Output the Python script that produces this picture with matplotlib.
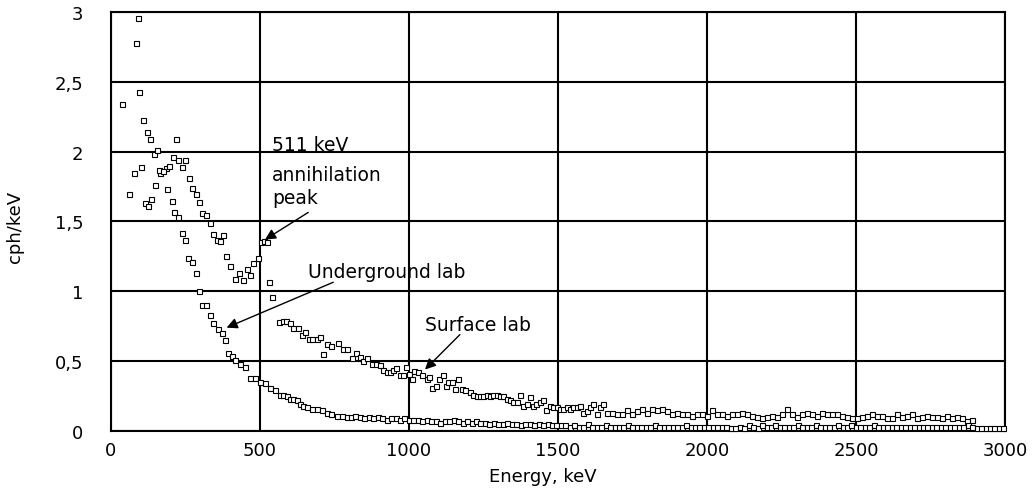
import matplotlib
matplotlib.use('Agg')
import matplotlib.pyplot as plt
import numpy as np
from matplotlib.ticker import FuncFormatter

# Surface lab: points (keV, cph/keV)
surface_e = [36, 84, 90, 95, 106, 120, 131, 144, 153, 166, 185, 195, 207, 218, 224,
             237, 248, 262, 273, 284, 296, 306, 319, 332, 343, 355, 366, 377, 385,
             399, 416, 430, 444, 455, 466, 478, 494, 502, 513, 525, 531, 542, 565,
             578, 589, 601, 612, 628, 640, 651, 663, 676, 690, 701, 712, 724, 740,
             763, 780, 791, 808, 824, 836, 847, 858, 875, 891, 903, 914, 925, 936,
             947, 956, 970, 981, 990, 1000, 1009, 1018, 1032, 1043, 1059, 1068, 1079,
             1091, 1102, 1113, 1124, 1132, 1143, 1154, 1165, 1177, 1188, 1205, 1216,
             1227, 1238, 1249, 1261, 1272, 1283, 1294, 1305, 1317, 1328, 1339, 1350,
             1361, 1372, 1384, 1395, 1406, 1417, 1428, 1440, 1451, 1460, 1473, 1484,
             1496, 1507, 1518, 1529, 1540, 1551, 1563, 1574, 1585, 1596, 1607, 1619,
             1630, 1641, 1652]
surface_y = [2.34, 2.78, 2.96, 2.43, 2.23, 2.14, 2.09, 1.98, 2.01, 1.85, 1.88, 1.90, 1.96, 2.09, 1.94,
             1.89, 1.94, 1.81, 1.74, 1.70, 1.64, 1.56, 1.55, 1.49, 1.41, 1.37, 1.36, 1.40, 1.25,
             1.18, 1.09, 1.13, 1.08, 1.16, 1.12, 1.20, 1.24, 1.35, 1.36, 1.35, 1.07, 0.96, 0.78,
             0.79, 0.79, 0.77, 0.74, 0.74, 0.69, 0.71, 0.66, 0.66, 0.66, 0.67, 0.55, 0.62, 0.61,
             0.63, 0.59, 0.59, 0.52, 0.56, 0.53, 0.50, 0.52, 0.48, 0.48, 0.47, 0.44, 0.42, 0.42,
             0.44, 0.45, 0.40, 0.40, 0.46, 0.41, 0.37, 0.43, 0.42, 0.40, 0.37, 0.39, 0.31,
             0.32, 0.37, 0.40, 0.32, 0.35, 0.35, 0.30, 0.37, 0.30, 0.29, 0.28, 0.26,
             0.25, 0.25, 0.25, 0.26, 0.25, 0.26, 0.26, 0.25, 0.25, 0.23, 0.22, 0.21,
             0.21, 0.26, 0.18, 0.19, 0.24, 0.18, 0.19, 0.21, 0.22, 0.15, 0.18, 0.17,
             0.17, 0.16, 0.16, 0.17, 0.16, 0.17, 0.17, 0.18, 0.13, 0.14, 0.17, 0.19,
             0.12, 0.17, 0.19]
# Surface lab tail, evenly spaced bins
surface_tail_start = 1663
surface_tail_step = 16.8
surface_tail_y = [0.13, 0.13, 0.12, 0.12, 0.15, 0.12, 0.14, 0.16, 0.13, 0.16, 0.15, 0.16, 0.14,
                  0.12, 0.13, 0.12, 0.12, 0.11, 0.12, 0.12, 0.11, 0.15, 0.12, 0.12, 0.11, 0.12,
                  0.12, 0.13, 0.12, 0.11, 0.10, 0.09, 0.10, 0.11, 0.10, 0.12, 0.16, 0.12, 0.10,
                  0.12, 0.13, 0.12, 0.11, 0.13, 0.12, 0.12, 0.12, 0.11, 0.10, 0.09, 0.09, 0.10,
                  0.11, 0.12, 0.11, 0.11, 0.09, 0.09, 0.12, 0.10, 0.11, 0.12, 0.09, 0.10, 0.11,
                  0.10, 0.10, 0.09, 0.11, 0.09, 0.10, 0.09, 0.07, 0.08]

# Underground lab
underground_e = [60, 78, 101, 114, 125, 136, 148, 160, 174, 189, 204, 212, 224, 237, 248,
                 259, 271, 284, 295, 304, 319, 332, 343, 360, 371, 383, 394, 405, 416, 433,
                 450, 466, 483, 500, 517, 534, 550, 567, 578, 590, 601, 612, 623, 634, 645,
                 657, 673, 690, 707, 724, 740, 757, 774, 791]
underground_y = [1.70, 1.85, 1.89, 1.63, 1.61, 1.66, 1.76, 1.87, 1.86, 1.73, 1.65, 1.57, 1.53, 1.42, 1.37,
                 1.24, 1.21, 1.13, 1.00, 0.90, 0.90, 0.83, 0.77, 0.73, 0.70, 0.65, 0.56, 0.54, 0.51, 0.48,
                 0.46, 0.38, 0.38, 0.35, 0.34, 0.31, 0.29, 0.26, 0.26, 0.25, 0.23, 0.23, 0.22, 0.19, 0.18,
                 0.17, 0.16, 0.16, 0.15, 0.13, 0.12, 0.11, 0.11, 0.10]
underground_tail_start = 805
underground_tail_step = 15
underground_tail_y = [
    0.10, 0.11, 0.10, 0.09, 0.10, 0.09, 0.10, 0.09, 0.08, 0.09, 0.09, 0.08, 0.09, 0.08,
    0.08, 0.08, 0.07, 0.08, 0.07, 0.07, 0.06, 0.07, 0.07, 0.08, 0.07, 0.06, 0.07, 0.06, 0.07, 0.06,
    0.06, 0.05, 0.06, 0.05, 0.05, 0.06, 0.05, 0.05, 0.04, 0.05, 0.05, 0.04, 0.05, 0.04, 0.05, 0.04, 0.04,
    0.04, 0.04, 0.03, 0.04, 0.03, 0.03, 0.05, 0.03, 0.03, 0.03, 0.04, 0.03, 0.03, 0.03, 0.03, 0.04,
    0.03, 0.03, 0.03, 0.03, 0.03, 0.04, 0.03, 0.03, 0.03, 0.03, 0.03, 0.03, 0.04, 0.03, 0.03, 0.03, 0.03,
    0.03, 0.03, 0.03, 0.03, 0.03, 0.02, 0.02, 0.03, 0.02, 0.04, 0.03, 0.02, 0.04, 0.03, 0.03, 0.04,
    0.03, 0.03, 0.03, 0.03, 0.04, 0.03, 0.03, 0.03, 0.04, 0.03, 0.03, 0.03, 0.03, 0.04, 0.03, 0.03,
    0.04, 0.03, 0.03, 0.03, 0.03, 0.04, 0.03, 0.03, 0.03, 0.03, 0.03, 0.03, 0.03, 0.03, 0.03, 0.03,
    0.03, 0.03, 0.03, 0.03, 0.03, 0.03, 0.03, 0.03, 0.03, 0.03, 0.04, 0.03, 0.02, 0.02, 0.02, 0.02,
    0.02, 0.02, 0.02]

surface_tail_e = surface_tail_start + surface_tail_step * np.arange(len(surface_tail_y))
underground_tail_e = underground_tail_start + underground_tail_step * np.arange(len(underground_tail_y))

fig = plt.figure(figsize=(10.36, 4.89), dpi=100)
ax = fig.add_axes([0.1071, 0.1166, 0.8629, 0.8568])

mk = dict(marker='s', ms=3.6, mfc='white', mec='black', mew=0.8, ls='none', clip_on=False, zorder=3)
ax.plot(list(surface_e) + list(surface_tail_e), surface_y + surface_tail_y, **mk)
ax.plot(list(underground_e) + list(underground_tail_e), underground_y + underground_tail_y, **mk)

ax.set_xlim(0, 3000)
ax.set_ylim(0, 3)
ax.set_xticks(np.arange(0, 3001, 500))
ax.set_yticks(np.arange(0, 3.01, 0.5))
ax.yaxis.set_major_formatter(FuncFormatter(lambda v, p: ('%g' % v).replace('.', ',')))
ax.tick_params(length=0, labelsize=13, colors='black')
ax.tick_params(axis='y', pad=20)
ax.tick_params(axis='x', pad=7)
ax.grid(True, color='black', lw=1.5)
ax.set_axisbelow(True)
for s in ax.spines.values():
    s.set_linewidth(1.5)

ax.set_xlabel('Energy, keV', fontsize=13, labelpad=1)
ax.xaxis.set_label_coords(0.483, -0.085)
ax.set_ylabel('cph/keV', fontsize=13)
ax.yaxis.set_label_coords(-0.097, 0.49)

arrow = dict(arrowstyle='-|>', color='black', lw=1.0, mutation_scale=16, shrinkA=0, shrinkB=0)
fs = 13.5
ax.text(540, 2.05, '511 keV', fontsize=fs, va='center', ha='left')
ax.text(540, 1.84, 'annihilation', fontsize=fs, va='center', ha='left')
ax.text(540, 1.675, 'peak', fontsize=fs, va='center', ha='left')
ax.annotate('', xy=(517, 1.37), xytext=(662, 1.565), arrowprops=arrow)

ax.text(661, 1.145, 'Underground lab', fontsize=fs, va='center', ha='left')
ax.annotate('', xy=(388, 0.74), xytext=(746, 1.065), arrowprops=arrow)

ax.text(1054, 0.766, 'Surface lab', fontsize=fs, va='center', ha='left')
ax.annotate('', xy=(1054, 0.44), xytext=(1171, 0.69), arrowprops=arrow)

fig.savefig('out.png', dpi=100)
